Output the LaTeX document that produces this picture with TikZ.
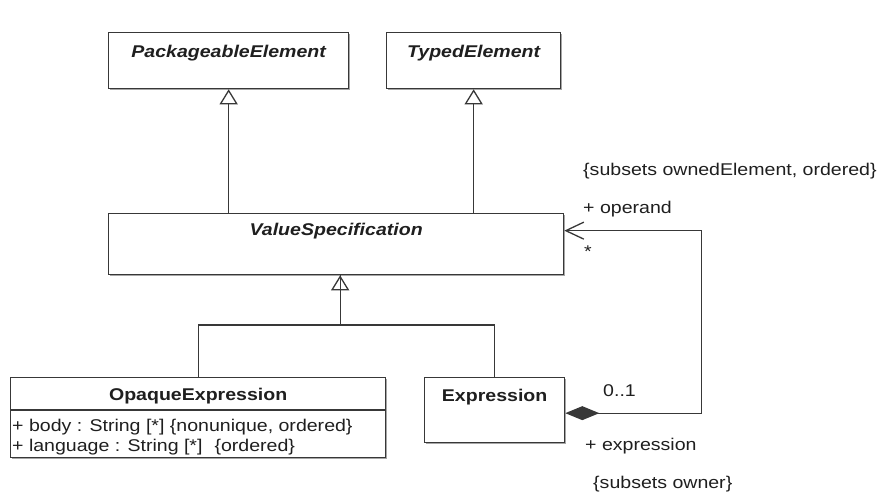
\documentclass[tikz,border=0pt]{standalone}
\usepackage{fontspec}
\setmainfont{Liberation Sans}[FakeStretch=1.15]
\usetikzlibrary{arrows.meta,shadows}

\definecolor{umlline}{gray}{0.22}
\definecolor{umltext}{gray}{0.12}
\newcommand\umlsize{\fontsize{17}{20}\selectfont}

\tikzset{
  umlclass/.style={draw=umlline, fill=white, line width=1.3pt, anchor=north west,
    inner xsep=0pt, inner ysep=0pt, text=umltext,
    drop shadow={shadow xshift=1.5pt, shadow yshift=-1.5pt, fill=black, opacity=0.35}},
  abstractname/.style={font=\umlsize\bfseries\itshape},
  classname/.style={font=\umlsize\bfseries},
  umllink/.style={draw=umlline, line width=1.3pt},
  generalize/.style={umllink, -{Triangle[open, length=15pt, width=18pt, fill=white]}},
  composite/.style={umllink, {Diamond[length=34pt, width=14pt]}-{Straight Barb[length=18pt, width=17pt]}},
  rolelabel/.style={anchor=base west, inner sep=0pt, font=\umlsize, text=umltext},
}

\begin{document}
\begin{tikzpicture}[x=1pt, y=-1pt]
    \useasboundingbox (0,0) rectangle (883,491);

    % classes
    \node[umlclass, abstractname, minimum width=240pt, text height=25pt, text depth=31pt]
        (pkgel) at (108,32) {PackageableElement};
    \node[umlclass, abstractname, minimum width=174pt, text height=25pt, text depth=31pt]
        (typedel) at (386,32) {TypedElement};
    \node[umlclass, abstractname, minimum width=455pt, text height=22pt, text depth=39pt]
        (valspec) at (108,213) {ValueSpecification};
    \node[umlclass, classname, minimum width=375pt, text height=23pt, text depth=57pt]
        (opaque) at (10,377) {OpaqueExpression};
    \node[umlclass, classname, minimum width=140pt, text height=24pt, text depth=41pt]
        (expr) at (424,377) {Expression};

    % attributes of OpaqueExpression
    \draw[umllink] ([yshift=-33pt]opaque.north west) -- ([yshift=-33pt]opaque.north east);
    \node[rolelabel] (bodyattr) at ([xshift=2pt,yshift=-54pt]opaque.north west)
        {+ body : String [*] \{nonunique, ordered\}};
    \node[rolelabel] (langattr) at ([xshift=2pt,yshift=-74pt]opaque.north west)
        {+ language : String [*]\hspace{12pt}\{ordered\}};

    % generalizations
    \draw[generalize] (pkgel.south |- valspec.north) -- (pkgel.south);
    \draw[generalize] (typedel.south |- valspec.north) -- (typedel.south);
    \draw[generalize] (opaque.north) -- ++(0,-52) -| ([xshift=4pt]valspec.south);
    \draw[umllink] (expr.north) -- ++(0,-52) -| ([xshift=4pt]valspec.south);

    % operand association
    \draw[composite] ([yshift=-3pt]expr.east) -- ++(136,0) |- ([yshift=13.5pt]valspec.east);

    \node[rolelabel] (opconstr) at (583,175) {\{subsets ownedElement, ordered\}};
    \node[rolelabel] (opname) at (583,213) {+ operand};
    \node[rolelabel] (opmult) at (584,257) {*};
    \node[rolelabel] (exmult) at (603,396) {0..1};
    \node[rolelabel] (exname) at (585,450) {+ expression};
    \node[rolelabel] (exconstr) at (593,488) {\{subsets owner\}};
\end{tikzpicture}
\end{document}
